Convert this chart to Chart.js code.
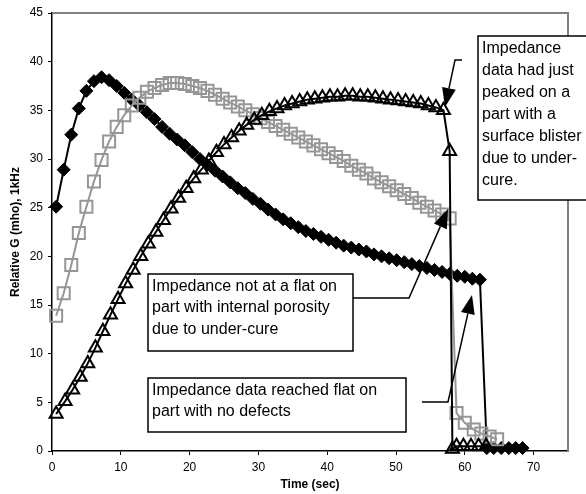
<!DOCTYPE html>
<html>
<head>
<meta charset="utf-8">
<script src="https://cdn.jsdelivr.net/npm/chart.js"></script>
<style>
  html, body { margin: 0; padding: 0; background: #fff; }
  #wrap { width: 586px; height: 494px; }
</style>
</head>
<body>
<div id="wrap"><canvas id="cureChart" width="586" height="494"></canvas></div>
<script>
  // tick labels
  const xTicks = [0, 10, 20, 30, 40, 50, 60, 70];
  const yTicks = [0, 5, 10, 15, 20, 25, 30, 35, 40, 45];

  // part with internal porosity (black diamonds)
  const porosityTime = [0.6, 1.7, 2.8, 3.9, 5.0, 6.1, 7.2, 8.3, 9.4, 10.5, 11.6, 12.7, 13.8, 14.9, 16.0, 17.1, 18.2, 19.3, 20.4, 21.5,
    22.6, 23.7, 24.8, 25.9, 27.0, 28.1, 29.2, 30.3, 31.4, 32.5, 33.6, 34.7, 35.8, 36.9, 38.0, 39.1, 40.2, 41.3, 42.4, 43.5,
    44.6, 45.7, 46.8, 47.9, 49.0, 50.1, 51.2, 52.3, 53.4, 54.5, 55.6, 56.7, 57.8, 58.9, 60.0, 61.1, 62.2,
    63.2, 64.2, 65.3, 66.4, 67.4, 68.4];
  const porosityG = [25.1, 28.9, 32.5, 35.2, 37.0, 38.0, 38.4, 38.1, 37.5, 36.8, 36.1, 35.5, 34.8, 34.1, 33.3, 32.6, 32.0, 31.4, 30.7, 30.0,
    29.4, 28.8, 28.2, 27.6, 27.0, 26.5, 25.9, 25.4, 24.8, 24.3, 23.8, 23.4, 23.0, 22.6, 22.3, 22.0, 21.7, 21.4, 21.1, 20.9,
    20.7, 20.5, 20.2, 20.0, 19.8, 19.6, 19.4, 19.2, 19.0, 18.8, 18.6, 18.4, 18.2, 18.0, 17.9, 17.7, 17.6,
    0.3, 0.3, 0.3, 0.3, 0.3, 0.3];

  // part with no defects (grey squares)
  const goodTime = [0.6, 1.7, 2.8, 3.9, 5.0, 6.1, 7.2, 8.3, 9.4, 10.5, 11.6, 12.7, 13.8, 14.9, 16.0, 17.1, 18.2, 19.3, 20.4, 21.5,
    22.6, 23.7, 24.8, 25.9, 27.0, 28.1, 29.2, 30.3, 31.4, 32.5, 33.6, 34.7, 35.8, 36.9, 38.0, 39.1, 40.2, 41.3, 42.4, 43.5,
    44.6, 45.7, 46.8, 47.9, 49.0, 50.1, 51.2, 52.3, 53.4, 54.5, 55.6, 56.7, 57.8,
    58.8, 60.0, 61.3, 62.4, 63.6, 64.7];
  const goodG = [13.9, 16.2, 19.1, 22.4, 25.1, 27.7, 29.9, 31.8, 33.3, 34.5, 35.5, 36.3, 36.9, 37.3, 37.6, 37.8, 37.8, 37.7, 37.5, 37.3,
    37.0, 36.6, 36.2, 35.8, 35.4, 35.0, 34.6, 34.2, 33.8, 33.4, 33.0, 32.6, 32.2, 31.8, 31.4, 31.0, 30.6, 30.2, 29.8, 29.3,
    28.9, 28.5, 28.0, 27.6, 27.2, 26.8, 26.4, 26.0, 25.5, 25.1, 24.7, 24.3, 23.9,
    3.9, 2.9, 2.2, 1.8, 1.5, 1.2];

  // part with surface blister (open triangles)
  const blisterTime = [0.6, 1.9, 3.0, 4.1, 5.2, 6.3, 7.4, 8.5, 9.6, 10.7, 11.8, 12.9, 14.0, 15.1, 16.2, 17.3, 18.4, 19.5, 20.6, 21.7,
    22.8, 23.9, 25.0, 26.1, 27.2, 28.3, 29.4, 30.5, 31.6, 32.7, 33.8, 34.9, 36.0, 37.1, 38.2, 39.3, 40.4, 41.5, 42.6, 43.7,
    44.8, 45.9, 47.0, 48.1, 49.2, 50.3, 51.4, 52.5, 53.6, 54.7, 55.8, 56.9, 57.8,
    58.2, 58.8, 59.8, 60.9, 62.0, 63.1];
  const blisterG = [3.8, 5.1, 6.3, 7.6, 9.0, 10.6, 12.3, 14.0, 15.6, 17.2, 18.6, 20.0, 21.3, 22.5, 23.7, 24.9, 26.0, 27.0, 28.0, 28.9,
    29.8, 30.7, 31.5, 32.2, 32.9, 33.5, 34.0, 34.5, 34.9, 35.2, 35.5, 35.7, 35.9, 36.1, 36.2, 36.3, 36.4, 36.4, 36.5, 36.5,
    36.4, 36.4, 36.3, 36.2, 36.1, 36.0, 35.9, 35.8, 35.7, 35.5, 35.3, 35.0, 30.8,
    0.2, 0.5, 0.5, 0.5, 0.5, 0.5];

  const FONT = "'Liberation Sans', Arial, sans-serif";

  // text boxes with their leader lines (canvas pixels)
  const callouts = [
    { lines: ['Impedance', 'data had just', 'peaked on a', 'part with a', 'surface blister', 'due to under-', 'cure.'],
      box: [478, 36, 130, 164], gap: 22, path: [[462, 60], [455, 60], [445, 107]] },
    { lines: ['Impedance not at a flat on', 'part with internal porosity', 'due to under-cure'],
      box: [148, 274, 205, 77], gap: 21.7, path: [[353, 298], [409, 298], [448, 209]] },
    { lines: ['Impedance data reached flat on', 'part with no defects'],
      box: [148, 378, 258, 54], gap: 21, path: [[422, 402], [448, 402], [472, 295]] }
  ];

  function toPoints(xs, ys) {
    return xs.map((x, i) => ({ x: x, y: ys[i] }));
  }

  function drawArrow(ctx, path) {
    const n = path.length;
    const [tx, ty] = path[n - 1];
    const [px, py] = path[n - 2];
    const ang = Math.atan2(ty - py, tx - px);
    const headLen = 19, headHalf = 7;
    const bx = tx - Math.cos(ang) * headLen;
    const by = ty - Math.sin(ang) * headLen;
    ctx.beginPath();
    ctx.moveTo(path[0][0], path[0][1]);
    for (let i = 1; i < n - 1; i++) ctx.lineTo(path[i][0], path[i][1]);
    ctx.lineTo(bx, by);
    ctx.stroke();
    ctx.beginPath();
    ctx.moveTo(tx, ty);
    ctx.lineTo(bx + Math.sin(ang) * headHalf, by - Math.cos(ang) * headHalf);
    ctx.lineTo(bx - Math.sin(ang) * headHalf, by + Math.cos(ang) * headHalf);
    ctx.closePath();
    ctx.fill();
  }

  const framePlugin = {
    id: 'framePlugin',
    beforeDatasetsDraw(chart) {
      const { ctx, chartArea: a } = chart;
      ctx.save();
      ctx.strokeStyle = '#808080';
      ctx.lineWidth = 2;
      ctx.beginPath();
      ctx.moveTo(a.left, a.top);
      ctx.lineTo(a.right, a.top);
      ctx.lineTo(a.right, a.bottom);
      ctx.stroke();
      ctx.restore();
    },
    afterDraw(chart) {
      const ctx = chart.ctx;
      ctx.save();
      ctx.strokeStyle = '#000';
      ctx.fillStyle = '#000';
      ctx.lineWidth = 1.5;
      callouts.forEach(c => {
        drawArrow(ctx, c.path);
        const [x, y, w, h] = c.box;
        ctx.fillStyle = '#fff';
        ctx.fillRect(x, y, w, h);
        ctx.strokeRect(x, y, w, h);
        ctx.fillStyle = '#000';
        ctx.font = '16px ' + FONT;
        ctx.textBaseline = 'alphabetic';
        c.lines.forEach((line, i) => ctx.fillText(line, x + 4, y + 16.5 + i * c.gap));
      });
      ctx.restore();
    }
  };

  const ctx = document.getElementById('cureChart').getContext('2d');
  new Chart(ctx, {
    type: 'scatter',
    data: {
      datasets: [
        {
          label: 'Surface blister',
          data: toPoints(blisterTime, blisterG),
          showLine: true, order: 0, clip: false,
          borderColor: '#000', borderWidth: 2,
          pointStyle: 'triangle', pointRadius: 7.5, pointBorderWidth: 2,
          pointBorderColor: '#000', pointBackgroundColor: 'rgba(0,0,0,0)'
        },
        {
          label: 'No defects',
          data: toPoints(goodTime, goodG),
          showLine: true, order: 1, clip: false,
          borderColor: '#969696', borderWidth: 2,
          pointStyle: 'rect', pointRadius: 8.5, pointBorderWidth: 2,
          pointBorderColor: '#969696', pointBackgroundColor: 'rgba(0,0,0,0)'
        },
        {
          label: 'Internal porosity',
          data: toPoints(porosityTime, porosityG),
          showLine: true, order: 2, clip: false,
          borderColor: '#000', borderWidth: 2,
          pointStyle: 'rectRot', pointRadius: 6.5, pointBorderWidth: 1,
          pointBorderColor: '#000', pointBackgroundColor: '#000'
        }
      ]
    },
    options: {
      responsive: false,
      animation: false,
      layout: { padding: { left: 0, top: 13, right: 18, bottom: 0 } },
      plugins: { legend: { display: false }, tooltip: { enabled: false } },
      scales: {
        x: {
          type: 'linear', min: 0, max: 75,
          afterBuildTicks: s => { s.ticks = xTicks.map(v => ({ value: v })); },
          afterFit: s => { s.height = 43; },
          grid: { display: true, drawOnChartArea: false, drawTicks: true, tickLength: 4, color: '#000', lineWidth: 1 },
          border: { display: true, color: '#000', width: 1.5 },
          ticks: { color: '#000', font: { family: FONT, size: 12 }, padding: 5, maxRotation: 0 },
          title: { display: true, text: 'Time (sec)', color: '#000',
            font: { family: FONT, size: 12, weight: 'bold' }, padding: { top: 0, bottom: 2 } }
        },
        y: {
          type: 'linear', min: 0, max: 45,
          afterBuildTicks: s => { s.ticks = yTicks.map(v => ({ value: v })); },
          afterFit: s => { s.width = 52; },
          grid: { display: true, drawOnChartArea: false, drawTicks: true, tickLength: 4, color: '#000', lineWidth: 1 },
          border: { display: true, color: '#000', width: 1.5 },
          ticks: { color: '#000', font: { family: FONT, size: 12 }, padding: 5 },
          title: { display: true, text: 'Relative G (mho), 1kHz', color: '#000',
            font: { family: FONT, size: 12, weight: 'bold' }, padding: { top: 8, bottom: 0 } }
        }
      }
    },
    plugins: [framePlugin]
  });
</script>
</body>
</html>
